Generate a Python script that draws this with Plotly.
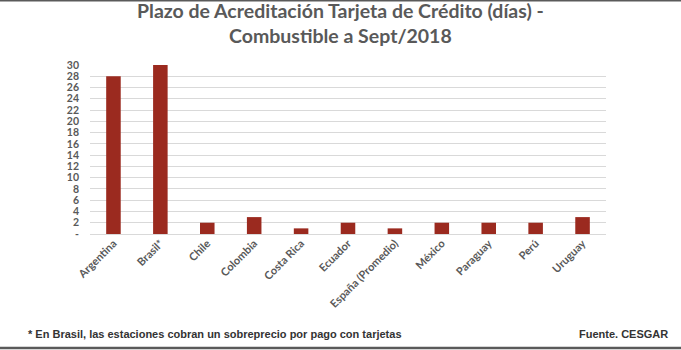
import plotly.graph_objects as go

paises = ["Argentina", "Brasil*", "Chile", "Colombia", "Costa Rica", "Ecuador",
          "España (Promedio)", "México", "Paraguay", "Perú", "Uruguay"]
dias = [28, 30, 2, 3, 1, 2, 1, 2, 2, 2, 3]
y_ticks = list(range(0, 31, 2))
y_labels = ["-"] + [str(v) for v in y_ticks[1:]]

titulo = "Plazo de Acreditación Tarjeta de Crédito (días) -<br>Combustible a Sept/2018"
nota = "* En Brasil, las estaciones cobran un sobreprecio por pago con tarjetas"
fuente = "Fuente. CESGAR"

W, H = 681, 350
L, R, T, B = 90, 75, 65, 116

fig = go.Figure(go.Bar(x=paises, y=dias, marker_color="#9b2a1f",
                       marker_line_width=0, hoverinfo="x+y"))

txt = "#595959"
fig.update_layout(
    width=W, height=H,
    margin=dict(l=L, r=R, t=T, b=B, pad=0),
    paper_bgcolor="white", plot_bgcolor="white",
    bargap=0.69,
    showlegend=False,
    xaxis=dict(tickangle=-45, tickfont=dict(family="Lato", size=11, color=txt, weight="bold"),
               showgrid=False, showline=False, ticks="", automargin=False),
    yaxis=dict(range=[0, 30], tickvals=y_ticks, ticktext=y_labels,
               tickfont=dict(family="Lato", size=10.5, color=txt, weight="bold"),
               showgrid=True, gridcolor="#d9d9d9", gridwidth=1,
               zeroline=True, zerolinecolor="#d9d9d9", zerolinewidth=1,
               showline=False, ticks="", ticklabelstandoff=10, automargin=False),
)

def px_x(x):
    return (x - L) / (W - L - R)

def px_y(y):
    return (H - B - y) / (H - T - B)

fig.add_annotation(text=titulo, x=px_x(340.5), y=px_y(-3), xref="paper", yref="paper",
                   xanchor="center", yanchor="top", showarrow=False,
                   font=dict(family="Lato", size=19.5, color=txt, weight="bold"))
fig.add_annotation(text=nota, x=px_x(26), y=px_y(334), xref="paper", yref="paper",
                   xanchor="left", yanchor="middle", showarrow=False,
                   font=dict(family="Liberation Sans, Arial", size=11, color="#333333",
                             weight="bold"))
fig.add_annotation(text=fuente, x=px_x(670), y=px_y(334), xref="paper", yref="paper",
                   xanchor="right", yanchor="middle", showarrow=False,
                   font=dict(family="Liberation Sans, Arial", size=11, color="#333333",
                             weight="bold"))

fig.add_shape(type="line", xref="paper", yref="paper",
              x0=px_x(0), x1=px_x(W), y0=px_y(0.5), y1=px_y(0.5),
              line=dict(color="#5a5a5a", width=2))
fig.add_shape(type="line", xref="paper", yref="paper",
              x0=px_x(0), x1=px_x(W), y0=px_y(348), y1=px_y(348),
              line=dict(color="#5a5a5a", width=2.5))

fig.write_html("out.html")
